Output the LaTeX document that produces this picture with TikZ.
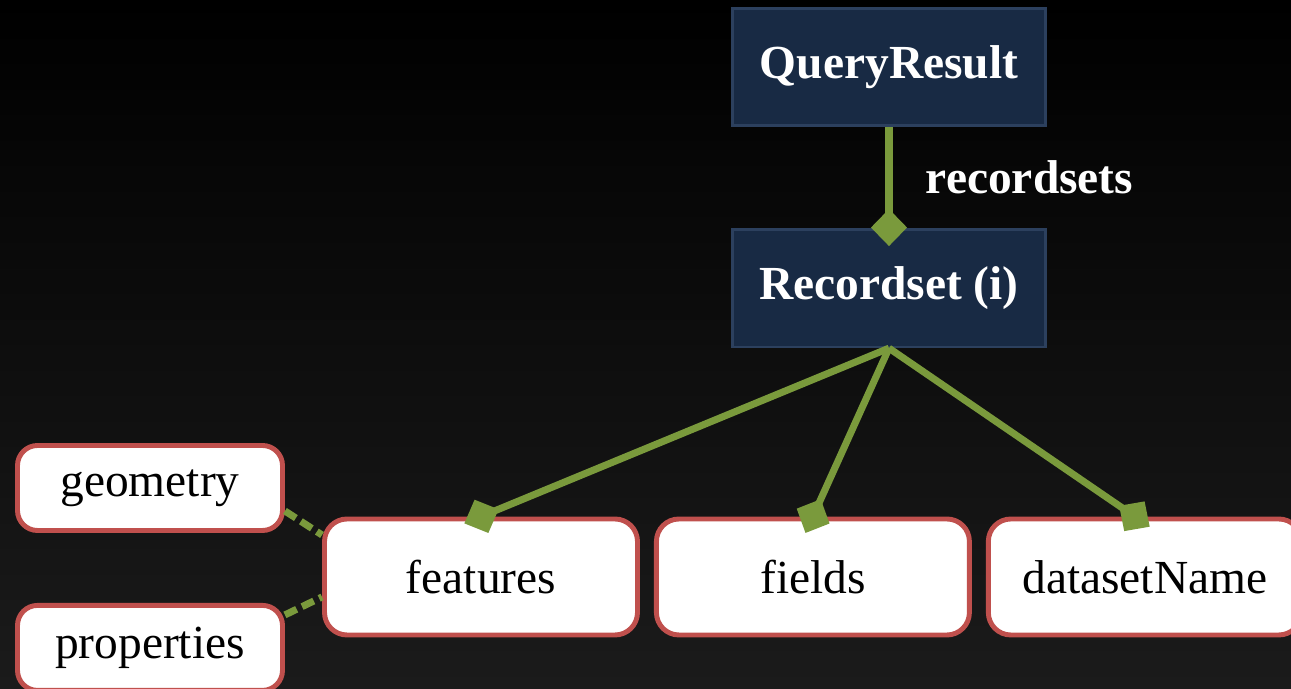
\documentclass[tikz,border=0pt]{standalone}
\usepackage{fontspec}
\setmainfont{Liberation Serif}
\usetikzlibrary{arrows.meta, positioning}
\definecolor{qnavy}{RGB}{24,42,68}
\definecolor{qedge}{RGB}{44,64,94}
\definecolor{qgreen}{RGB}{122,154,60}
\definecolor{qred}{RGB}{192,80,77}
\definecolor{qfloor}{RGB}{27,27,27}

\begin{document}
\begin{tikzpicture}[auto, node distance=2cm, >={Diamond[length=0.74cm, width=0.72cm]}]
% We define the styles for the boxes and the connectors
 \tikzset{
classbox/.style = {draw=qedge, fill=qnavy, rectangle, line width=1.5pt, minimum height=2.35cm, minimum width=6.27cm, text=white, font=\fontsize{27}{30}\selectfont\bfseries},
fieldbox/.style = {draw=qred, fill=white, rectangle, rounded corners=0.45cm, line width=2.8pt, minimum height=2.32cm, minimum width=6.26cm, font=\fontsize{27}{30}\selectfont},
subbox/.style = {fieldbox, minimum height=1.7cm, minimum width=5.3cm, rounded corners=0.4cm},
line/.style = {draw, ->, qgreen, line width=4pt, shorten >=-0.36cm},
dashline/.style = {draw, qgreen, line width=4pt, dash pattern=on 0.26cm off 0.12cm},
}

 % Background
 \useasboundingbox (0,0) rectangle (25.82,13.78);
 \fill [top color=black, middle color=black, bottom color=qfloor] (0,0) rectangle (25.82,13.78);

 % Result and recordset blocks
 \node [classbox] (result) at (17.78,12.44) {QueryResult};
 \node [classbox, below=2.02cm of result] (recordset) {Recordset (i)};

 % Members of the recordset
 \node [fieldbox] (features) at (9.62,2.24) {features};
 \node [fieldbox, right=0.28cm of features] (fields) {fields};
 \node [fieldbox, right=0.28cm of fields] (dsname) {datasetName};

 % Members of a feature
 \node [subbox] (geometry) at (3.0,4.02) {geometry};
 \node [subbox, below=1.4cm of geometry] (properties) {properties};

 % Connectors
 \draw [line] (result) -- (recordset) node[midway, right=0.55cm, text=white, font=\fontsize{27}{30}\selectfont\bfseries] {recordsets};
 \draw [line] (recordset.south) -- (features.north);
 \draw [line] (recordset.south) -- (fields.north);
 \draw [line] (recordset.south) -- ([xshift=-0.2cm]dsname.north);
 \draw [dashline] ([yshift=-0.46cm]geometry.east) -- ([yshift=0.84cm]features.west);
 \draw [dashline] ([yshift=0.66cm]properties.east) -- ([yshift=-0.4cm]features.west);

\end{tikzpicture}
\end{document}
